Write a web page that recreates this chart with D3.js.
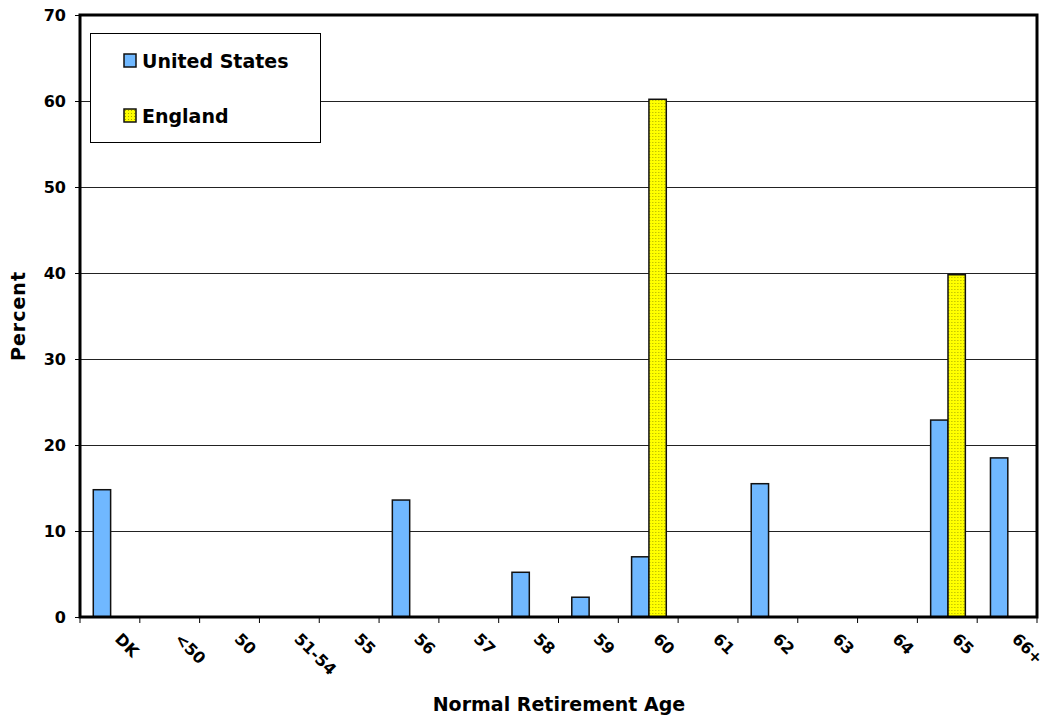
<!DOCTYPE html>
<html>
<head>
<meta charset="utf-8">
<script src="https://cdn.jsdelivr.net/npm/d3@7"></script>
<style>
  html, body { margin: 0; padding: 0; background: #fff; }
  svg { display: block; }
  text { font-family: "DejaVu Sans", Verdana, sans-serif; font-weight: bold; fill: #000; }
</style>
</head>
<body>
<svg id="chart" width="1047" height="719"></svg>
<script>
// Retirement ages reported by respondents, percent of each country's sample
const categories = ["DK", "<50", "50", "51-54", "55", "56", "57", "58", "59", "60", "61", "62", "63", "64", "65", "66+"];
const seriesNames = ["United States", "England"];
const usValues = [14.8, 0, 0, 0, 0, 13.6, 0, 5.2, 2.3, 7.0, 0, 15.5, 0, 0, 22.9, 18.5];
const englandValues = [0, 0, 0, 0, 0, 0, 0, 0, 0, 60.2, 0, 0, 0, 0, 39.8, 0];
const yTicks = [0, 10, 20, 30, 40, 50, 60, 70];

const svg = d3.select("#chart");
const plot = { left: 80, right: 1037, top: 15, bottom: 617 };

// Yellow fill with a fine dot texture for the England bars
const defs = svg.append("defs");
const pat = defs.append("pattern")
  .attr("id", "dots").attr("patternUnits", "userSpaceOnUse")
  .attr("width", 3).attr("height", 3);
pat.append("rect").attr("width", 3).attr("height", 3).attr("fill", "#ffff00");
pat.append("rect").attr("x", 1).attr("y", 1).attr("width", 1).attr("height", 1).attr("fill", "#a8a800");

const x = d3.scaleBand().domain(categories).range([plot.left, plot.right]).padding(0);
const bw = x.bandwidth();
const x1 = d3.scaleBand().domain(seriesNames).range([bw * 0.222, bw * 0.802]).padding(0);
const y = d3.scaleLinear().domain([0, 70]).range([plot.bottom, plot.top]);

const fills = { "United States": "#70b8ff", "England": "url(#dots)" };

// Horizontal gridlines
svg.append("g").selectAll("line")
  .data(yTicks.filter(t => t > 0 && t < 70))
  .join("line")
  .attr("x1", plot.left).attr("x2", plot.right)
  .attr("y1", d => Math.round(y(d)) + 0.5).attr("y2", d => Math.round(y(d)) + 0.5)
  .attr("stroke", "#222").attr("stroke-width", 1);

// Bars
const rows = categories.map((c, i) => ({
  cat: c,
  vals: [
    { s: "United States", v: usValues[i] },
    { s: "England", v: englandValues[i] }
  ]
}));

svg.append("g").selectAll("g")
  .data(rows)
  .join("g")
  .attr("transform", d => `translate(${x(d.cat)},0)`)
  .selectAll("rect")
  .data(d => d.vals.filter(e => e.v > 0))
  .join("rect")
  .attr("x", d => x1(d.s))
  .attr("y", d => y(d.v))
  .attr("width", x1.bandwidth())
  .attr("height", d => y(0) - y(d.v))
  .attr("fill", d => fills[d.s])
  .attr("stroke", "#111")
  .attr("stroke-width", 1.5);

// Y axis
const yAxis = d3.axisLeft(y).tickValues(yTicks).tickSize(5).tickPadding(9);
const gy = svg.append("g").attr("transform", `translate(${plot.left},0)`).call(yAxis);
gy.select(".domain").remove();
gy.selectAll("text").style("font-size", "16px").attr("dy", "0.36em");
gy.selectAll("line").attr("stroke", "#000");

// X axis ticks at band boundaries, labels rotated below
const boundaries = categories.map(c => x(c)).concat([plot.right]);
svg.append("g").selectAll("line")
  .data(boundaries)
  .join("line")
  .attr("x1", d => d).attr("x2", d => d)
  .attr("y1", plot.bottom).attr("y2", plot.bottom + 6)
  .attr("stroke", "#000");

svg.append("g").selectAll("text")
  .data(categories)
  .join("text")
  .attr("transform", d => `translate(${x(d) + bw / 2 + 4},${plot.bottom + 23}) rotate(45)`)
  .attr("text-anchor", "start")
  .style("font-size", "16px")
  .text(d => d);

// Plot frame
svg.append("rect")
  .attr("x", plot.left).attr("y", plot.top)
  .attr("width", plot.right - plot.left).attr("height", plot.bottom - plot.top)
  .attr("fill", "none").attr("stroke", "#000").attr("stroke-width", 3);

// Axis titles
svg.append("text")
  .attr("x", 559).attr("y", 711)
  .attr("text-anchor", "middle").style("font-size", "19px")
  .text("Normal Retirement Age");

svg.append("text")
  .attr("transform", `translate(25,316) rotate(-90)`)
  .attr("text-anchor", "middle").style("font-size", "19px")
  .style("letter-spacing", "1px")
  .text("Percent");

// Legend
const lg = svg.append("g");
lg.append("rect")
  .attr("x", 90.5).attr("y", 33.5).attr("width", 230).attr("height", 109)
  .attr("fill", "#fff").attr("stroke", "#000").attr("stroke-width", 1);
const items = lg.selectAll("g.item")
  .data(seriesNames)
  .join("g")
  .attr("transform", (d, i) => `translate(124,${54 + i * 55})`);
items.append("rect")
  .attr("width", 12).attr("height", 13)
  .attr("fill", d => fills[d]).attr("stroke", "#111").attr("stroke-width", 1.5);
items.append("text")
  .attr("x", 18).attr("y", 14)
  .style("font-size", "19px")
  .text(d => d);
</script>
</body>
</html>
